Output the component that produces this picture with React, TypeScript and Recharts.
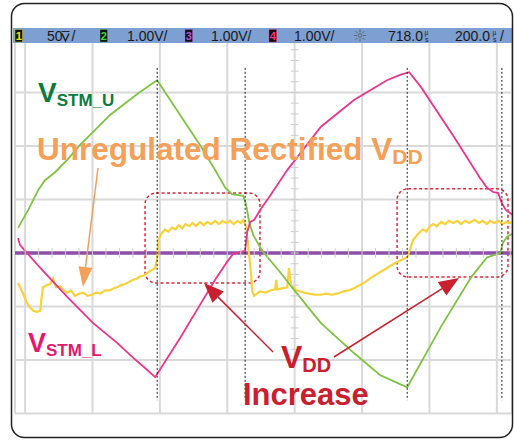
import React from 'react';
import {
  ComposedChart,
  Line,
  XAxis,
  YAxis,
  CartesianGrid,
  ReferenceLine,
  ReferenceArea,
  Scatter,
} from 'recharts';

// ---- time axis (µs), 200 µs/div ----
const TIME_DOMAIN: [number, number] = [-30, 1445];
const TIME_TICKS = [0, 200, 400, 600, 800, 1000, 1200, 1400];
// ---- volt axis (1.00 V/div) ----
const VOLT_DOMAIN: [number, number] = [-3, 4];
const VOLT_TICKS = [-3, -2, -1, 0, 1, 2, 3, 4];
// ---- channel 1 axis (50 mV/div) ----
const MV_DOMAIN: [number, number] = [-150, 200];

// Channel 2 : V_STM_U (green)
const GREEN_T = [-21, 9, 39, 59, 89, 125, 163, 208, 252, 297, 341, 371, 392, 460, 519, 564, 594, 614, 647, 656, 665, 677, 697, 709, 757, 798, 878, 976, 1053, 1098, 1134, 1234, 1324, 1371, 1392, 1410, 1418, 1430, 1448];
const GREEN_V = [0.47, 0.8, 1.18, 1.36, 1.51, 1.74, 2.02, 2.3, 2.58, 2.8, 3.01, 3.14, 3.23, 2.58, 2.02, 1.55, 1.22, 1.1, 1.07, 0.9, 0.58, 0.34, 0.11, 0.0, -0.36, -0.69, -1.31, -1.87, -2.28, -2.41, -2.51, -1.38, -0.45, -0.08, -0.04, 0.0, 0.19, 0.3, 0.37];

// Channel 4 : V_STM_L (magenta)
const MAGENTA_T = [-21, -15, 45, 125, 202, 273, 321, 356, 386, 460, 519, 564, 599, 617, 638, 653, 659, 668, 680, 697, 727, 778, 878, 976, 1074, 1113, 1140, 1175, 1273, 1350, 1371, 1389, 1404, 1415, 1427, 1448];
const MAGENTA_V = [0.28, 0.15, -0.28, -0.82, -1.31, -1.68, -1.96, -2.15, -2.32, -1.59, -0.97, -0.5, -0.17, -0.02, 0.02, 0.04, 0.39, 0.58, 0.62, 0.8, 1.07, 1.55, 2.36, 2.86, 3.23, 3.33, 3.38, 3.1, 2.17, 1.4, 1.22, 1.14, 1.12, 0.93, 0.8, 0.71];

// Channel 1 : unregulated rectified VDD (yellow, mV)
const YELLOW_T = [
  -21, -9, 6, 15, 24, 36, 45, 48, 53, 65, 74, 83, 92, 104, 115, 125, 136, 148, 160, 172, 185, 199, 211, 223, 237, 252, 263, 273, 285, 297, 309, 321, 331, 341, 353, 365, 376, 386,
  392, 395, 404, 415, 425, 436, 446, 456, 466, 476, 487, 497, 507, 519, 530, 541, 552, 564, 575, 586, 597, 608, 619, 630, 640, 647,
  656, 659, 665, 671, 674, 680, 697, 712, 727, 742, 745, 748, 762, 778, 783, 789, 807, 818, 828, 843, 860, 878, 893, 910, 926, 943, 960, 976, 993, 1010, 1027, 1043, 1058, 1074, 1094, 1113, 1134,
  1142, 1151, 1166, 1181, 1191, 1201, 1211, 1222, 1234, 1246, 1258, 1270, 1282, 1294, 1306, 1318, 1335, 1347, 1358, 1370, 1380, 1392, 1404, 1416, 1428, 1438, 1448,
];
const YELLOW_MV = [
  -28, -36, -47, -51, -54, -55, -54, -44, -32, -30, -29, -24, -32, -31, -35, -37, -35, -40, -38, -37, -40, -39, -37, -38, -35, -35, -33, -32, -30, -29, -27, -25, -24, -22, -21, -18, -16, -14,
  -5, 12, 18, 22, 20, 24, 22, 26, 23, 27, 25, 28, 25, 29, 26, 29, 27, 30, 27, 30, 28, 30, 27, 30, 28, 31,
  25, 15, -2, -21, -36, -40, -36, -37, -35, -34, -25, -34, -33, -32, -14, -30, -35, -36, -37, -38, -39, -39, -38, -39, -38, -36, -35, -33, -30, -27, -23, -20, -17, -14, -10, -7, -4,
  3, 12, 18, 22, 20, 25, 27, 25, 29, 27, 30, 28, 30, 27, 30, 28, 31, 28, 30, 27, 30, 28, 30, 27, 29, 28, 29,
];

// Channel 3 : flat trace (purple, V)
const PURPLE_T = [-30, 1445];
const PURPLE_V = [0, 0];

// Cursor markers (dotted black), boxes
const CURSOR_T = [392, 653, 1134, 1415];
const CURSOR_TOP = 3.46;
const CURSOR_BOTTOM = -2.75;
const BOXES = [
  { x1: 356, x2: 697, y1: -0.56, y2: 1.12 },
  { x1: 1104, x2: 1433, y1: -0.45, y2: 1.2 },
];

// Minor graticule ticks (every 1/5 division on the centre lines)
const MINOR_X = Array.from({ length: 37 }, (_, i) => i * 40).map((t) => ({ t, v: 0 }));
const MINOR_Y = Array.from({ length: 31 }, (_, i) => -2 + i * 0.2).map((v) => ({ t: 800, v }));

const green = GREEN_T.map((t, i) => ({ t, v: GREEN_V[i] }));
const magenta = MAGENTA_T.map((t, i) => ({ t, v: MAGENTA_V[i] }));
const yellow = YELLOW_T.map((t, i) => ({ t, mv: YELLOW_MV[i] }));
const purple = PURPLE_T.map((t, i) => ({ t, v: PURPLE_V[i] }));

const FONT = '"Liberation Sans", Arial, Helvetica, sans-serif';

function Arrow({ x1, y1, x2, y2, color, head = 20, half = 7, width = 1.5 }: any) {
  const dx = x2 - x1;
  const dy = y2 - y1;
  const len = Math.hypot(dx, dy);
  const ux = dx / len;
  const uy = dy / len;
  const bx = x2 - ux * head;
  const by = y2 - uy * head;
  const px = -uy;
  const py = ux;
  return (
    <g>
      <line x1={x1} y1={y1} x2={bx} y2={by} stroke={color} strokeWidth={width} />
      <polygon
        points={`${x2},${y2} ${bx + px * half},${by + py * half} ${bx - px * half},${by - py * half}`}
        fill={color}
      />
    </g>
  );
}

function Badge({ x, label, color }: any) {
  return (
    <g>
      <rect x={x} y={29.5} width={7.5} height={12.5} fill="#111" stroke={color} strokeOpacity={0.6} strokeWidth={0.7} />
      <text x={x + 3.75} y={40} fontSize={11} fontWeight="bold" textAnchor="middle" fill={color} fontFamily={FONT}>
        {label}
      </text>
    </g>
  );
}

function Stacked({ x, top, bottom }: any) {
  return (
    <g fontFamily={FONT} fill="#1a1a1a">
      <text x={x} y={34.5} fontSize={6.5}>{top}</text>
      <text x={x + 0.5} y={42} fontSize={7}>{bottom}</text>
    </g>
  );
}

function Overlay() {
  const rays = [0, 45, 90, 135, 180, 225, 270, 315];
  return (
    <svg
      width={514}
      height={440}
      style={{ position: 'absolute', left: 0, top: 0, pointerEvents: 'none' }}
    >
      {/* header bar */}
      <rect x={13} y={28} width={499} height={15} fill="#7d9fd1" />
      <g fontFamily={FONT} fontSize={14} fill="#1a1a1a">
        <Badge x={15} label="1" color="#f2e600" />
        <text x={47} y={40.5}>50</text>
        {/* compact "mV" glyph */}
        <path d="M61.5 31.5 H69.5" stroke="#1a1a1a" strokeWidth={0.9} />
        <path d="M62 33.5 L65.5 41 L69 33.5" stroke="#1a1a1a" strokeWidth={1.3} fill="none" />
        <text x={71.5} y={40.5}>/</text>
        <Badge x={100} label="2" color="#49d63a" />
        <text x={127} y={40.5}>1.00V/</text>
        <Badge x={185} label="3" color="#b55ad8" />
        <text x={211} y={40.5}>1.00V/</text>
        <Badge x={269} label="4" color="#ff2f7a" />
        <text x={294} y={40.5}>1.00V/</text>
        <text x={388} y={40.5}>718.0</text>
        <Stacked x={424.5} top="µ" bottom="s" />
        <text x={455} y={40.5}>200.0</text>
        <Stacked x={492.5} top="µ" bottom="s" />
        <text x={500} y={40.5}>/</text>
      </g>
      <g stroke="#555" strokeWidth={0.8}>
        <circle cx={360} cy={35.5} r={1.8} fill="none" />
        {rays.map((a) => {
          const r = (a * Math.PI) / 180;
          return (
            <line
              key={a}
              x1={360 + Math.cos(r) * 3.2}
              y1={35.5 + Math.sin(r) * 3.2}
              x2={360 + Math.cos(r) * 6}
              y2={35.5 + Math.sin(r) * 6}
            />
          );
        })}
      </g>

      {/* rounded frame */}
      <rect x={11.5} y={3.5} width={501} height={434} rx={13} fill="none" stroke="#222" strokeWidth={1.5} />

      {/* labels */}
      <g fontFamily={FONT} fontWeight="bold">
        <text x={38} y={102} fontSize={28} fill="#0c7b3e">
          V<tspan fontSize={17} dy={4}>STM_U</tspan>
        </text>

        <text x={37} y={160} fontSize={31.5} fill="#f4a058">
          Unregulated Rectified V<tspan fontSize={21} dy={4}>DD</tspan>
        </text>

        <text x={28} y={352} fontSize={27} fill="#e5186b">
          V<tspan fontSize={17} dy={4}>STM_L</tspan>
        </text>

        <text x={281} y={368} fontSize={32} fill="#c8202f">
          V<tspan fontSize={20} dy={4}>DD</tspan>
        </text>
        <text x={243} y={405} fontSize={31} fill="#c8202f">Increase</text>
      </g>

      {/* arrows */}
      <Arrow x1={98} y1={168} x2={83} y2={287} color="#f4a058" head={20} half={7} width={1.5} />
      <Arrow x1={273} y1={352} x2={204} y2={283} color="#c8202f" head={20} half={8} width={1.5} />
      <Arrow x1={334} y1={357} x2={459} y2={278} color="#c8202f" head={20} half={8} width={1.5} />
    </svg>
  );
}

const minorTickH = (p: any) => (
  <line x1={p.cx} y1={p.cy - 5} x2={p.cx} y2={p.cy + 5} stroke="#cfcfcf" strokeWidth={1} />
);
const minorTickV = (p: any) => (
  <line x1={p.cx - 4} y1={p.cy} x2={p.cx + 4} y2={p.cy} stroke="#cfcfcf" strokeWidth={1} />
);
const roundedBox = (p: any) => (
  <rect
    x={p.x}
    y={p.y}
    width={p.width}
    height={p.height}
    rx={11}
    fill="none"
    stroke="#d8283a"
    strokeWidth={1.5}
    strokeDasharray="3 2.5"
  />
);

export default function App() {
  return (
    <div style={{ position: 'absolute', left: 0, top: 0, width: 514, height: 440, background: '#fff' }}>
      <ComposedChart
        width={514}
        height={440}
        margin={{ top: 39, right: 2, bottom: 26.5, left: 15 }}
      >
        <XAxis
          dataKey="t"
          type="number"
          domain={TIME_DOMAIN}
          ticks={TIME_TICKS}
          allowDataOverflow
          hide
        />
        <YAxis yAxisId="v" type="number" domain={VOLT_DOMAIN} ticks={VOLT_TICKS} allowDataOverflow hide />
        <YAxis yAxisId="mv" type="number" domain={MV_DOMAIN} allowDataOverflow hide />
        <CartesianGrid yAxisId="v" stroke="#d9d9d9" strokeWidth={2} />

        <Scatter yAxisId="v" data={MINOR_X} dataKey="v" shape={minorTickH} isAnimationActive={false} />
        <Scatter yAxisId="v" data={MINOR_Y} dataKey="v" shape={minorTickV} isAnimationActive={false} />

        <Line
          yAxisId="v"
          data={purple}
          dataKey="v"
          type="linear"
          stroke="#8e4fa6"
          strokeWidth={3.5}
          dot={false}
          isAnimationActive={false}
        />
        <Line
          yAxisId="mv"
          data={yellow}
          dataKey="mv"
          type="linear"
          stroke="#f8d23a"
          strokeWidth={2.2}
          dot={false}
          isAnimationActive={false}
        />
        <Line
          yAxisId="v"
          data={green}
          dataKey="v"
          type="linear"
          stroke="#80c342"
          strokeWidth={1.8}
          dot={false}
          isAnimationActive={false}
        />
        <Line
          yAxisId="v"
          data={magenta}
          dataKey="v"
          type="linear"
          stroke="#e8378c"
          strokeWidth={1.8}
          dot={false}
          isAnimationActive={false}
        />

        {CURSOR_T.map((t) => (
          <ReferenceLine
            key={t}
            yAxisId="v"
            segment={[
              { x: t, y: CURSOR_TOP },
              { x: t, y: CURSOR_BOTTOM },
            ]}
            stroke="#222"
            strokeWidth={1}
            strokeDasharray="2 2"
          />
        ))}
        {BOXES.map((b, i) => (
          <ReferenceArea
            key={i}
            yAxisId="v"
            x1={b.x1}
            x2={b.x2}
            y1={b.y1}
            y2={b.y2}
            shape={roundedBox}
          />
        ))}
      </ComposedChart>
      <Overlay />
    </div>
  );
}
